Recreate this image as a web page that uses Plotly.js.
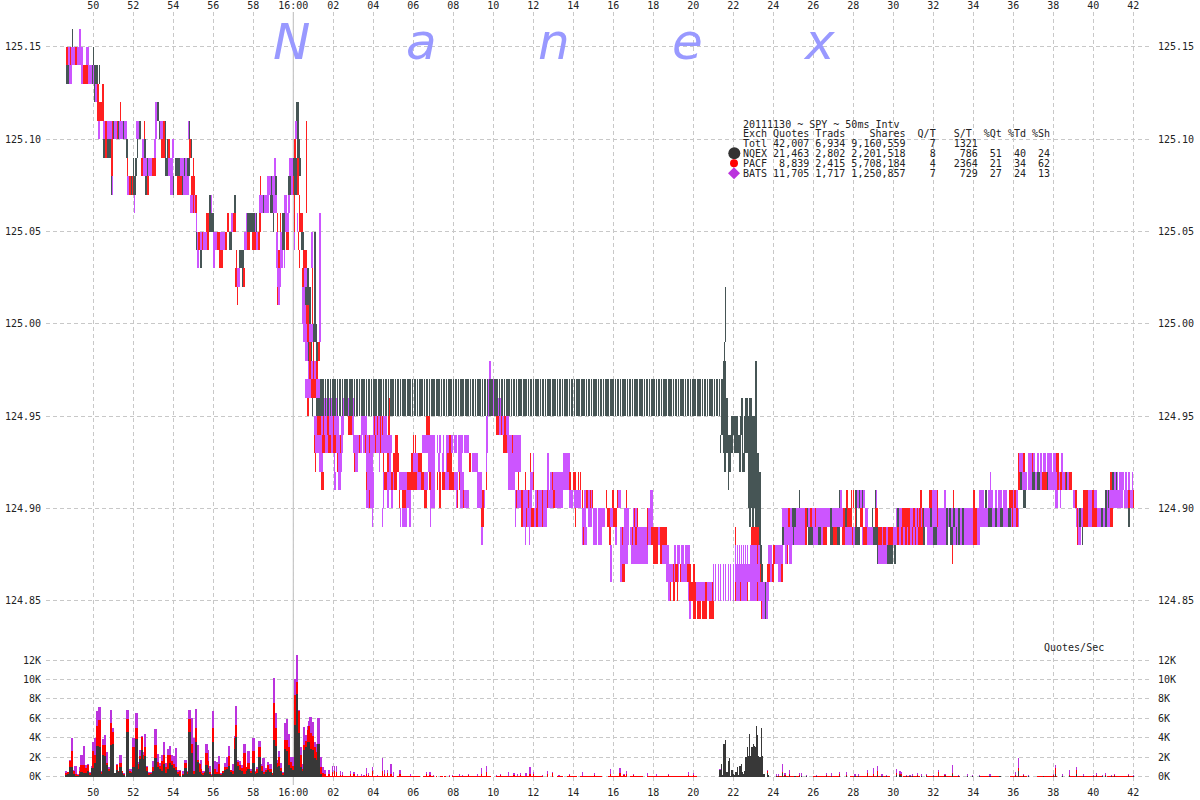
<!DOCTYPE html>
<html>
<head>
<meta charset="utf-8">
<script src="https://cdn.plot.ly/plotly-3.0.1.min.js"></script>
<style>html,body{margin:0;padding:0;background:#fff}#chart{width:1200px;height:800px}</style>
</head>
<body>
<div id="chart"></div>
<script>
// Time is in seconds relative to 16:00:00. Each band is [bid, ask, [start,end, start,end, ...]].
const batsBands = [
[125.15,125.16,[-643,-637]],
[125.14,125.15,[-676,-655,-649,-630,-622,-612]],
[125.13,125.14,[-672,-664,-637,-630,-615,-597]],
[125.12,125.13,[-594,-585]],
[125.11,125.12,[-415,-410]],
[125.10,125.11,[-585,-579,-570,-564,-558,-545,-537,-530,-524,-512,-508,-499,-471,-462,-415,-410,-400,-390,-316,-312,5,10]],
[125.09,125.10,[-455,-448,-418,-413,-364,-358]],
[125.08,125.09,[-450,-424,-377,-360,-340,-320,-58,-52,-12,0]],
[125.07,125.08,[-544,-541,-499,-490,-370,-360,-330,-312,-80,-50,-8,-2]],
[125.06,125.07,[-479,-475,-310,-302,-298,-295,-246,-244,-102,-73,-60,-50,-27,-20,-15,-10]],
[125.05,125.06,[-292,-290,-198,-193,-188,-182,-142,-134,-134,-120,-120,-113,-115,-110,-25,-13,10,15,77,83]],
[125.04,125.05,[-292,-253,-240,-230,-220,-198,-148,-138,-113,-105,-52,-45,-40,-35,2,6,53,60,77,83]],
[125.03,125.04,[-290,-282,-240,-234,-52,-45,-40,-30,-28,-25,53,59,77,83]],
[125.02,125.03,[-170,-160,-48,-37,33,40,77,83]],
[125.01,125.02,[-48,-40,27,35,77,83]],
[125.00,125.01,[27,37,77,83]],
[124.99,125.00,[30,40,48,60,77,83]],
[124.98,124.99,[36,46]],
[124.97,124.98,[43,70,587,593]],
[124.96,124.97,[36,80,585,615]],
[124.95,124.96,[75,135,148,182,585,627]],
[124.94,124.95,[62,137,143,152,176,182,203,221,240,280,578,584,608,647]],
[124.93,124.94,[62,150,180,205,210,245,242,296,386,425,430,435,438,443,448,452,458,480,482,490,494,509,512,527,578,584,642,683]],
[124.92,124.93,[77,90,122,125,135,145,186,194,218,240,257,260,288,294,360,373,405,425,435,440,447,452,458,475,493,505,535,553,578,580,644,683,718,722,762,766,808,830,2178,2193,2203,2225,2230,2238,2241,2247,2250,2258,2261,2265,2265,2275,2278,2290,2304,2309]],
[124.91,124.92,[122,128,134,144,222,242,268,272,282,292,300,308,317,355,372,385,392,405,412,425,455,467,482,495,500,512,550,566,644,665,710,720,762,767,770,812,812,828,2091,2093,2185,2200,2203,2217,2224,2336,2462,2475,2478,2492,2495,2502,2505,2510,2515,2520]],
[124.90,124.91,[218,242,268,272,282,288,293,299,338,352,410,425,487,490,500,527,550,575,665,715,725,810,828,840,842,863,872,900,970,982,1070,1080,1637,1645,1690,1715,1745,1751,1915,1930,1952,1958,2057,2072,2084,2100,2105,2112,2115,2125,2128,2140,2160,2175,2285,2295,2300,2304,2340,2350,2385,2411,2440,2450,2450,2490,2493,2503,2505,2522]],
[124.89,124.90,[237,240,266,269,320,322,325,342,348,352,410,413,665,668,682,760,867,878,883,895,900,910,915,935,950,960,992,1007,1020,1035,1063,1080,1466,1475,1476,1496,1508,1655,1715,1725,1808,1935,1935,1958,1958,2177,2348,2460]],
[124.88,124.89,[563,569,695,698,707,710,867,880,900,910,915,925,965,972,980,1007,1010,1060,1065,1072,1093,1100,1472,1500,1503,1535,1560,1590,1655,1685,1705,1750,1755,1875,1870,1880,1900,1930,1932,1958,1980,2060,2355,2362]],
[124.87,124.88,[950,955,980,1005,1012,1065,1106,1128,1142,1148,1151,1160,1163,1172,1175,1190,1325,1328,1331,1334,1337,1340,1343,1346,1349,1352,1355,1358,1361,1364,1370,1406,1424,1436,1445,1470,1475,1485,1487,1496,1752,1790]],
[124.86,124.87,[950,955,980,995,1118,1157,1163,1180,1325,1400,1430,1436,1455,1463]],
[124.85,124.87,[1260,1262,1265,1267,1270,1272,1275,1277,1280,1282,1285,1287,1290,1292,1295,1297,1300,1302,1305,1307,1310,1312,1315,1317,1320,1322]],
[124.85,124.86,[1124,1130,1184,1262,1325,1365,1370,1403,1403,1427]],
[124.84,124.85,[1187,1193,1406,1424]]
];
const pacfBands = [
[125.14,125.15,[-682,-676,-670,-668,-655,-649]],
[125.13,125.14,[-630,-615]],
[125.12,125.13,[-588,-582,-574,-568]],
[125.11,125.12,[-589,-568,-520,-517]],
[125.06,125.11,[38,40]],
[125.10,125.11,[-564,-558,-545,-540,-530,-527,-447,-445,-410,-408,-390,-386]],
[125.09,125.10,[-564,-558,-547,-540,-396,-385,-376,-370,-314,-308,2,8]],
[125.08,125.09,[-546,-540,-499,-496,-456,-450,-424,-413,-302,-298,12,16]],
[125.07,125.08,[-492,-480,-438,-433,-350,-335,-307,-295,-100,-97,-2,2,12,17]],
[125.06,125.07,[-302,-298,-294,-289,2,6,16,20]],
[125.05,125.06,[-262,-252,-260,-254,-198,-193,-182,-172,-104,-98,-49,-46,-40,-36,-30,-24,2,6,16,28,25,28]],
[125.04,125.05,[-285,-280,-274,-270,-258,-254,-230,-220,-205,-200,-138,-130,-125,-113,-105,-100,-22,-13,13,18]],
[125.03,125.04,[-223,-211,-173,-168,-45,-40,17,20,28,42]],
[125.02,125.03,[-175,-170,-150,-145,27,33,55,59]],
[125.01,125.02,[-169,-166,-49,-46,55,58]],
[125.00,125.01,[37,48,55,60]],
[124.99,125.00,[40,48]],
[124.98,124.99,[48,52,60,62,74,80]],
[124.97,124.98,[48,52,58,62,68,75]],
[124.96,124.97,[52,68]],
[124.95,124.96,[42,48,87,89,155,157,173,175,285,290,580,582]],
[124.94,124.95,[71,82,90,92,102,106,120,123,165,176,208,210,241,245,252,254,260,262,265,270,284,291,398,410,608,617,623,626,632,637]],
[124.93,124.94,[62,65,86,95,104,114,120,128,140,144,197,200,215,218,228,230,244,248,260,262,304,315,360,363,365,368,466,472,628,642,656,658]],
[124.92,124.93,[65,67,130,135,182,186,270,273,280,286,298,318,353,360,373,376,378,387,460,477,528,532,710,713,2175,2178,2190,2195,2217,2220,2288,2296]],
[124.91,124.92,[84,92,218,222,272,282,292,298,302,310,342,372,384,392,408,412,430,433,438,442,447,455,467,482,497,500,578,581,674,677,695,698,718,722,775,780,828,832,838,847,855,858,860,863,2175,2180,2245,2260,2290,2296,2300,2305,2314,2318,2328,2336,2450,2455]],
[124.90,124.91,[227,230,317,320,325,338,392,401,437,443,492,495,508,511,565,572,668,672,682,690,705,708,730,733,745,750,760,764,780,785,866,870,878,883,890,894,897,900,938,941,956,962,970,974,998,1001,1658,1663,1672,1675,1678,1682,1880,1886,1907,1915,1930,1933,1980,1982,2040,2045,2147,2160,2163,2168,2338,2340,2345,2350,2370,2385,2395,2402,2503,2510,2518,2522]],
[124.89,124.90,[563,571,682,688,698,702,712,722,728,735,745,750,845,848,940,950,958,972,1022,1024,1030,1034,1062,1065,1485,1489,1536,1545,1550,1555,1565,1568,1650,1675,1685,1690,1700,1710,1745,1755,1825,1850,1860,1866,1870,1874,1878,1883,1886,1890,1930,1933,2040,2050,2155,2160,2168,2175,2350,2355,2370,2385,2395,2410,2450,2460]],
[124.88,124.89,[870,873,948,953,985,990,1015,1020,1025,1030,1060,1065,1072,1093,1100,1117,1118,1121,1326,1328,1373,1397,1535,1542,1590,1600,1620,1630,1645,1655,1675,1678,1710,1720,1755,1765,1770,1778,1783,1795,1795,1800,1810,1816,1822,1828,1835,1840,1845,1850,1855,1860,1864,1868,1875,1888,2038,2050,2350,2353]],
[124.87,124.88,[1080,1095,1100,1106,1392,1395,1440,1445,1480,1484,1977,1980]],
[124.86,124.87,[985,995,1138,1142,1145,1155,1160,1163,1182,1193,1199,1205,1400,1406,1422,1430,1437,1442,1463,1469]],
[124.85,124.86,[1130,1133,1138,1145,1150,1154,1186,1208,1235,1240,1255,1258,1325,1328,1340,1343,1362,1365,1392,1395]],
[124.84,124.85,[1199,1208,1211,1223,1226,1242,1247,1262,1403,1406]]
];
const nqexBands = [
[125.15,125.16,[-664,-662]],
[125.14,125.15,[-668,-666,-601,-599]],
[125.13,125.14,[-682,-672,-668,-666,-608,-606,-604,-602,-597,-586,-583,-580]],
[125.12,125.13,[-597,-594]],
[125.11,125.12,[-410,-403,8,17]],
[125.10,125.11,[-540,-537,-527,-524,-512,-508,-462,-456,-403,-400,-386,-383,-313,-311,10,17]],
[125.09,125.10,[-570,-565,-558,-548,-502,-496,-470,-465,-448,-442,-385,-383,-380,-376,-308,-304,10,20]],
[125.08,125.09,[-481,-478,-474,-468,-440,-436,-384,-377,-355,-340,-328,-324,-320,-310,0,10,16,22]],
[125.07,125.08,[-546,-544,-488,-484,-480,-472,-444,-438,-362,-358,-335,-330,-67,-63,-55,-50,-15,-8,2,10]],
[125.06,125.07,[-252,-246,-178,-172,-90,-88,-70,-62]],
[125.05,125.06,[-253,-238,-140,-134,-134,-120,-120,-115,-113,-110,-62,-58,-35,-25]],
[125.04,125.05,[-292,-288,-194,-184,-35,-25,23,33,62,68]],
[125.03,125.04,[-281,-275,-163,-147,62,68]],
[125.02,125.03,[-155,-150,40,47,62,68]],
[125.01,125.02,[35,52,62,68]],
[125.00,125.01,[48,52,62,68]],
[124.99,125.00,[58,72]],
[124.99,125.02,[1295,1297]],
[124.98,124.99,[45,48,52,56,68,74,1292,1296]],
[124.97,124.98,[1289,1297,1385,1391]],
[124.96,124.97,[1289,1297,1385,1391]],
[124.95,124.96,[56,59,68,80,1282,1300,1300,1303,1343,1349,1355,1365,1367,1376,1385,1391]],
[124.94,124.95,[1282,1303,1312,1330,1331,1334,1340,1350,1352,1391]],
[124.93,124.94,[1280,1283,1289,1319,1322,1343,1346,1350,1352,1391]],
[124.92,124.93,[1292,1298,1304,1313,1337,1343,1346,1355,1364,1397]],
[124.91,124.92,[1305,1307,1364,1403,2180,2185,2217,2224,2230,2240,2260,2263,2318,2322,2455,2462,2468,2472]],
[124.90,124.91,[1364,1403,1517,1520,1637,1640,1685,1690,1697,1700,1705,1710,1746,1748,2075,2080,2190,2198,2436,2440,2445,2447]],
[124.89,124.90,[1368,1373,1377,1383,1386,1403,1496,1508,1540,1545,1610,1616,1655,1660,1687,1692,1735,1740,1810,1817,1888,1893,1910,1915,1958,1964,1968,1974,1978,1985,1995,2000,2005,2012,2085,2095,2105,2110,2120,2130,2143,2152,2358,2362,2422,2430,2435,2440,2505,2510]],
[124.88,124.89,[1397,1403,1466,1472,1500,1503,1545,1560,1575,1583,1610,1620,1630,1640,1685,1700,1740,1755,1888,1895,1920,1930,1958,1965,1970,1978,1988,1992,1995,2000,2005,2012,2365,2370]],
[124.87,124.88,[1400,1407,1752,1755,1780,1800,1803,1809]],
[124.86,124.87,[1403,1409]],
[124.85,124.86,[1415,1418]],
[124.84,124.85,[1414,1418]]
];
// The quote the NQEX kept refreshing between 01:20 and 21:27: one stripe per refresh.
const nqexStaleLow = 124.95, nqexStaleHigh = 124.97, nqexStaleDuration = 5;
const nqexStaleStart = [80,87,94,101,109,116,123,130,138,145,152,159,167,174,181,188,196,203,210,217,225,232,239,246,254,261,268,275,283,290,297,304,312,319,326,333,341,348,355,362,370,377,384,391,399,406,413,420,428,435,442,449,457,464,471,478,486,493,500,507,515,522,529,536,544,551,558,565,573,580,587,594,602,609,616,623,631,638,645,652,660,667,674,681,689,696,703,710,718,725,732,739,747,754,761,768,776,783,790,797,805,812,819,826,834,841,848,855,863,870,877,884,892,899,906,913,921,928,935,942,950,957,964,971,979,986,993,1000,1008,1015,1022,1029,1037,1044,1051,1058,1066,1073,1080,1087,1095,1102,1109,1116,1124,1131,1138,1145,1153,1160,1167,1174,1182,1189,1196,1203,1211,1218,1225,1232,1240,1247,1254,1261,1269,1276,1283];

// Quotes/sec, thousands. Rows: [second, NQEX top, NQEX+PACF top, total top].
const quotesBeforeClose = [
[-682,.2,.4,.6],[-676,.3,.5,.5],[-670,1,1.6,1.7],[-663,1,2.6,4],[-658,.3,.6,.7],[-654,.1,.3,1.1],[-646,.1,.2,.3],[-640,.3,.6,1],[-636,.5,1.2,2.2],[-630,.4,.7,1],[-627,.4,1.2,3.1],[-622,.4,.9,1.2],[-616,.6,1.2,1.3],[-610,.2,.4,.5],[-604,.9,.9,1.1],[-600,.9,2.6,3.6],[-595,1.4,2.2,4],[-588,3.1,5.2,6.8],[-582,3,5.8,7.2],[-576,.3,.5,.6],[-570,2.2,3.2,3.9],[-565,2.1,3.2,4.3],[-559,1.2,1.4,2.5],[-553,.6,.8,1],[-547,3.2,5.5,6.9],[-542,3.3,4.6,5],[-535,.4,.4,.4],[-530,.7,1.2,1.3],[-525,.5,.6,.6],[-519,1,1.4,2.2],[-513,.4,.6,.6],[-508,.2,.3,.4],[-498,4.6,5.9,6.9],[-492,.4,.6,.8],[-486,.4,.5,.8],[-480,1,3,4],[-474,3.9,4.9,5.3],[-471,3.9,5,6.5],[-465,.8,1.3,1.5],[-460,1.8,2.1,2.7],[-455,2.7,4.1,4.2],[-450,1.8,2.2,2.5],[-445,2.1,3,4.4],[-439,.6,1,1.1],[-433,.2,.4,.5],[-427,.3,.4,.5],[-421,.6,1,1.6],[-414,1.9,3.2,4.9],[-407,1,1.5,2.3],[-401,.8,1.1,1.4],[-395,.6,1.6,2.2],[-388,1.3,2.2,3.6],[-382,.4,1,1.4],[-377,.8,2.2,2.8],[-370,1.4,2.2,3.1],[-364,1.2,1.6,2.2],[-358,.9,1.3,2.1],[-352,.7,1,2.9],[-346,.3,.5,.7],[-340,.1,.6,.7],[-332,.2,.3,.6],[-324,.9,1.4,1.7],[-318,.3,.5,.6],[-312,4.6,5.9,6.9],[-306,2.4,3.4,6],[-300,.3,.6,4],[-292,3.6,5,7],[-286,1.5,1.7,3.2],[-280,.5,1.3,1.4],[-277,.3,.8,1.7],[-271,.2,.4,.6],[-265,.4,.5,.6],[-261,1.2,2.4,3.4],[-255,.9,1.6,2.7],[-250,.3,.5,1.1],[-245,.1,.2,.3],[-240,3.6,5,6.8],[-235,.3,.8,1.6],[-229,.3,.5,1.5],[-223,.3,1.3,2.1],[-217,.2,.3,.4],[-211,.4,.6,.6],[-205,.7,1,1.4],[-199,.8,1,2],[-193,1.1,2.1,3.1],[-187,.5,.7,.7],[-181,.3,.6,1.3],[-177,2.8,4,4.2],[-173,4.1,5.3,7.3],[-167,1.1,1.5,1.7],[-161,.7,1.2,1.6],[-155,.6,.9,1.2],[-147,.3,2.4,3.3],[-140,.6,1,1],[-135,.8,1.4,2.6],[-127,.4,.6,.8],[-120,1.4,2.6,4],[-114,.3,.5,.6],[-108,.4,.8,1],[-102,2,3,3.7],[-96,.6,1.1,1.3],[-90,.3,.5,1.9],[-83,.5,.7,.9],[-77,.7,1.2,1.5],[-69,.5,.8,1.3],[-63,.2,.4,.4],[-60,3.8,5.4,7.1],[-57,3.8,7.6,10.2],[-52,3.1,5,6.5],[-47,1,1.4,1.7],[-42,1.1,2,2.6],[-37,.6,.9,1.4],[-32,.2,.4,.5],[-25,2.8,3.8,5.5],[-19,2.6,3.8,5.9],[-14,1.2,3,4.4],[-8,.9,1.5,2],[-3,.7,1.1,2]
];
const quotesAfterClose = [
[3,5.3,8.4,10.1],[7,5.3,8.4,10.1],[12,8.5,9.7,12.5],[17,4.5,6.8,6.9],[23,1,2.2,3],[27,.6,.8,1.3],[32,2.7,3.2,5.1],[37,3,3.7,4.3],[43,3.6,4.8,5.2],[47,3.6,5.2,5.7],[51,2.8,4.5,6.1],[57,2.7,4.2,5.6],[63,1.9,3,3.6],[69,1.7,2.5,3.3],[75,3.3,3.3,6],[81,.3,1,2],[87,0,.4,1],[93,0,.3,.7],[100,0,.1,.1],[106,0,.3,.7]
];
const quotesLull = [
[118,0,.5,1.1],[124,0,.6,1.1],[130,0,.5,1.1],[136,0,.1,.1],[142,0,.2,.6],[148,0,.2,.5],[160,0,.1,.1],[172,0,.3,.6],[182,0,.3,.5],[192,0,.1,.3],[204,0,.1,.3],[212,0,.1,.2],[220,0,.3,.9],[226,0,.2,.4],[238,0,.6,1],[252,0,.1,.2],[267,0,.6,1.9],[273,0,.3,.7],[283,0,.4,.7],[293,0,.3,1.3],[300,0,.1,.5],[320,0,.3,.7],[330,0,.1,.1],[352,0,.1,.3],[370,0,.1,.1],[400,0,.3,.5],[410,0,.2,.5],[420,0,.1,.2],[430,0,.1,.1],[455,0,.05,.1],[468,0,.1,.2],[478,0,.1,.2],[498,0,.1,.3],[508,0,.1,.2],[525,0,.2,.3],[552,0,.1,.3],[565,0,.3,.9],[580,0,.5,1.1],[590,0,.05,.1],[610,0,.1,.2],[622,0,.2,.3],[645,0,.1,.5],[662,0,.2,.4],[672,0,.1,.3],[682,0,.2,.4],[698,0,.1,.4],[710,0,.3,1],[720,0,.3,.5],[747,0,.1,.2],[763,0,.3,.6],[777,0,.4,.5],[797,0,.1,.2],[828,0,.2,.3],[867,0,.1,.5],[903,0,.2,.4],[952,0,.3,.8],[980,0,.4,.9],[992,0,.2,.3],[1000,0,.3,.6],[1020,0,.2,.3],[1062,0,.1,.4],[1090,0,.1,.3],[1125,0,.2,.3],[1143,0,.1,.1],[1185,0,.2,.5],[1200,0,.2,.4]
];
const quotesBurst = [
[1280,.7,.7,.75],[1284,1.3,1.3,1.3],[1288,.2,.2,.2],[1290,3.4,3.4,3.4],[1294,3.3,3.3,3.3],[1297,3.8,3.8,3.8],[1301,.5,.5,.5],[1305,1.6,1.6,1.6],[1309,1.9,1.9,1.9],[1312,.1,.1,.1],[1316,.7,.7,.7],[1320,.3,.3,.3],[1323,.2,.2,.2],[1328,.5,.5,.5],[1332,1,1,1],[1336,.2,.2,.2],[1340,1.1,1.1,1.1],[1344,1.3,1.3,1.3],[1347,.5,.5,.5],[1350,.3,.3,.3],[1354,.6,.6,.6],[1358,2,2,2],[1362,3,3,3],[1365,2.1,2.1,2.1],[1368,4.4,4.4,4.4],[1372,2.1,2.1,2.1],[1376,3,3,3],[1380,3.3,3.3,3.3],[1383,3.1,3.1,3.1],[1386,3,3,3],[1389,5.2,5.2,5.2],[1392,4.3,4.3,4.3],[1396,2.1,2.1,2.1],[1400,2,2,2],[1404,5,5,5],[1408,2.1,2.1,2.1],[1412,.3,.3,.3],[1422,.4,.6,.7],[1426,.2,.2,.2]
];
const quotesLate = [
[1450,.05,.1,.3],[1456,.05,.1,.3],[1467,.4,.5,1.3],[1475,.1,.2,.4],[1488,.2,.3,.7],[1505,.05,.1,.1],[1518,.1,.2,.4],[1525,.05,.1,.4],[1540,.05,.1,.2],[1570,.05,.1,.2],[1600,.1,.2,.4],[1615,.05,.1,.4],[1638,.1,.3,.5],[1660,.1,.2,.5],[1685,.05,.1,.3],[1695,.05,.1,.3],[1722,.1,.4,.7],[1740,.1,.3,.9],[1752,.2,.6,1.1],[1766,.05,.1,.3],[1780,.05,.1,.2],[1810,.2,.4,.8],[1820,.2,.3,.6],[1825,.1,.3,.5],[1840,.05,.1,.2],[1850,.05,.1,.2],[1858,.05,.1,.3],[1872,.1,.2,.4],[1885,.05,.1,.3],[1900,.1,.2,.3],[1920,.05,.1,.2],[1936,.1,.5,.7],[1955,.1,.2,.3],[1977,.3,.4,1.2],[1995,.05,.1,.2],[2022,.05,.1,.3],[2038,.05,.1,.2],[2058,.05,.1,.2],[2090,.05,.1,.3],[2120,.05,.1,.1],[2166,.1,.2,.5],[2176,.6,.9,1.9],[2190,.1,.2,.3],[2205,.05,.1,.2],[2250,.05,.1,.1],[2280,.1,.2,.3],[2286,.3,.9,1.2],[2307,.05,.1,.3],[2328,.1,.2,.7],[2349,.3,.7,1],[2370,.05,.1,.3],[2400,.05,.1,.2],[2410,.1,.2,.4],[2428,.05,.1,.2],[2437,.1,.2,.4],[2455,.05,.1,.2],[2464,.1,.2,.3],[2505,.1,.2,.3],[2520,.05,.1,.2]
];
// Stretches where the PACF kept a thin trickle of quotes [start,end,...], and its rate.
const pacfTrickleRuns = [100,300,310,380,390,420,440,450,480,590,610,750,790,810,820,850,860,925,945,1000,1010,1050,1060,1210,1450,1520,1560,1640,1670,1790,1830,1880,1900,2000,2060,2120,2150,2200,2230,2290,2330,2430,2440,2520];
const pacfTrickleRate = 0.08;

const timeTickSeconds = [-600,-480,-360,-240,-120,0,120,240,360,480,600,720,840,960,1080,1200,1320,1440,1560,1680,1800,1920,2040,2160,2280,2400,2520];
const timeTickLabels = ['50','52','54','56','58','16:00','02','04','06','08','10','12','14','16','18','20','22','24','26','28','30','32','34','36','38','40','42'];
const priceTicks = [124.85,124.90,124.95,125.00,125.05,125.10,125.15];
const priceTickLabels = ['124.85','124.90','124.95','125.00','125.05','125.10','125.15'];
const rateTicks = [0,2,4,6,8,10,12];
const rateTickLabels = ['0K','2K','4K','6K','8K','10K','12K'];

const tableRows = [
'20111130 ~ SPY ~ 50ms Intv',
'Exch Quotes Trads    Shares  Q/T   S/T  %Qt %Td %Sh',
'Totl 42,007 6,934 9,160,559    7   1321',
'NQEX 21,463 2,802 2,201,518    8    786  51  40  24',
'PACF  8,839 2,415 5,708,184    4   2364  21  34  62',
'BATS 11,705 1,717 1,250,857    7    729  27  24  13'
];
const brandLetters = ['N','a','n','e','x'];

// --- styling and layout, all page pixels ---
const W = 1200, H = 800, L = 46, R = 1150, T = 12, B = 785, SPLIT = 630;
const BATS_COLOR = '#cc55ff', PACF_COLOR = '#ff2020', NQEX_COLOR = '#465555';
const RATE_BATS = '#bb33dd', RATE_PACF = '#ff0000', RATE_NQEX = '#383838';
const MONO = '"DejaVu Sans Mono", monospace', INK = '#222222', GRID = '#c8c8c8';
const px = x => (x - L) / (R - L), py = y => (B - y) / (B - T);

function bandTrace(bands, color) {
  const x = [], width = [], base = [], y = [];
  bands.forEach(([low, high, runs]) => {
    for (let i = 0; i < runs.length; i += 2) {
      x.push((runs[i] + runs[i + 1]) / 2);
      width.push(runs[i + 1] - runs[i]);
      base.push(low);
      y.push(high - low);
    }
  });
  return {type: 'bar', x, y, base, width, xaxis: 'x', yaxis: 'y', hoverinfo: 'skip',
          marker: {color, line: {width: 0}}};
}
const stale = {
  type: 'bar', hoverinfo: 'skip', xaxis: 'x', yaxis: 'y',
  x: nqexStaleStart.map(s => s + nqexStaleDuration / 2),
  y: nqexStaleStart.map(() => nqexStaleHigh - nqexStaleLow),
  base: nqexStaleStart.map(() => nqexStaleLow),
  width: nqexStaleDuration,
  marker: {color: NQEX_COLOR, line: {width: 0}}
};

const quoteRows = [].concat(quotesBeforeClose, quotesAfterClose, quotesLull, quotesBurst, quotesLate);
const quoteWidths = quoteRows.map((r, i) => {
  const next = quoteRows[i + 1] ? quoteRows[i + 1][0] - r[0] : 3;
  return Math.max(2.5, Math.min(next + 1, r[0] < 110 ? 7 : 3.5));
});
function rateTrace(col, color) {
  return {type: 'bar', xaxis: 'x', yaxis: 'y2', hoverinfo: 'skip',
          x: quoteRows.map(r => r[0]), y: quoteRows.map(r => r[col]), width: quoteWidths,
          marker: {color, line: {width: 0}}};
}
const trickle = {type: 'bar', xaxis: 'x', yaxis: 'y2', hoverinfo: 'skip', x: [], y: [], width: [],
                 marker: {color: RATE_PACF, line: {width: 0}}};
for (let i = 0; i < pacfTrickleRuns.length; i += 2) {
  trickle.x.push((pacfTrickleRuns[i] + pacfTrickleRuns[i + 1]) / 2);
  trickle.width.push(pacfTrickleRuns[i + 1] - pacfTrickleRuns[i]);
  trickle.y.push(pacfTrickleRate);
}
// Invisible anchors so the mirrored axes (top time, right price, right rate) are drawn.
const mirror = (xa, ya, yv) => ({type: 'scatter', mode: 'markers', x: [0], y: [yv], xaxis: xa, yaxis: ya,
  marker: {opacity: 0, size: 1}, hoverinfo: 'skip'});

const traces = [
  bandTrace(batsBands, BATS_COLOR),
  bandTrace(pacfBands, PACF_COLOR),
  bandTrace(nqexBands, NQEX_COLOR),
  stale,
  rateTrace(3, RATE_BATS),
  rateTrace(2, RATE_PACF),
  trickle,
  rateTrace(1, RATE_NQEX),
  mirror('x2', 'y', 125),
  mirror('x', 'y3', 125),
  mirror('x', 'y4', 1)
];

const gridStyle = {showgrid: true, gridcolor: GRID, griddash: '4px,3px', gridwidth: 1, zeroline: false, showline: false};
const tickFont = {family: MONO, size: 10, color: INK};
const clearTick = len => ({ticks: 'outside', ticklen: len, tickwidth: 1, tickcolor: 'rgba(0,0,0,0)'});
const xRange = [(L * 3) - 880, (R * 3) - 880];
const priceRange = [124.85 - (SPLIT - 600.7) * 0.05 / 92.3, 125.15 + (47 - T) * 0.05 / 92.3];
const rateRange = [(776.5 - B) / 9.7, (776.5 - SPLIT) / 9.7];
const yDomainSplit = py(SPLIT);

const annotations = [];
tableRows.forEach((row, i) => {
  const ys = [124, 133.7, 143.4, 153.4, 163.4, 173.4];
  annotations.push({xref: 'paper', yref: 'paper', x: px(741.5), y: py(ys[i]), xanchor: 'left', yanchor: 'middle',
    showarrow: false, align: 'left', borderpad: 0, text: row.replace(/ /g, '\u00A0'),
    font: {family: MONO, size: 10, color: INK}});
});
[291, 421, 554, 687, 819].forEach((c, i) => {
  annotations.push({xref: 'paper', yref: 'paper', x: px(c), y: py(42), xanchor: 'center', yanchor: 'middle',
    showarrow: false, borderpad: 0, text: '<i>' + brandLetters[i] + '</i>',
    font: {family: '"DejaVu Sans", sans-serif', size: 50, color: '#9999ff'}});
});
annotations.push({xref: 'paper', yref: 'paper', x: px(1043), y: py(647.5), xanchor: 'left', yanchor: 'middle',
  showarrow: false, borderpad: 0, text: 'Quotes/Sec', font: {family: MONO, size: 10, color: INK}});

const diamond = (cx, cy, r) => `M ${px(cx - r)} ${py(cy)} L ${px(cx)} ${py(cy - r)} L ${px(cx + r)} ${py(cy)} L ${px(cx)} ${py(cy + r)} Z`;
const circle = (cx, cy, r, color) => ({type: 'circle', xref: 'paper', yref: 'paper', layer: 'above',
  x0: px(cx - r), x1: px(cx + r), y0: py(cy + r), y1: py(cy - r), fillcolor: color, line: {width: 0}});
const shapes = [
  {type: 'line', xref: 'x', yref: 'paper', x0: 0, x1: 0, y0: 0, y1: 1, layer: 'below', line: {color: '#c8c8c8', width: 1.2}},
  circle(734.3, 153.3, 6, '#333333'),
  circle(734, 163.3, 4, '#ff0000'),
  {type: 'path', xref: 'paper', yref: 'paper', layer: 'above', path: diamond(734, 173.3, 6), fillcolor: RATE_BATS, line: {width: 0}}
];

const layout = {
  width: W, height: H, autosize: false, showlegend: false, barmode: 'overlay', bargap: 0,
  paper_bgcolor: '#ffffff', plot_bgcolor: '#ffffff',
  margin: {l: L, r: W - R, t: T, b: H - B, pad: 0},
  xaxis: Object.assign({}, gridStyle, {ticks: '', range: xRange, domain: [0, 1], anchor: 'y2', side: 'bottom', tickmode: 'array',
    tickvals: timeTickSeconds, ticktext: timeTickLabels, tickfont: tickFont, tickangle: 0}),
  xaxis2: {range: xRange, domain: [0, 1], anchor: 'y', overlaying: 'x', side: 'top', tickmode: 'array',
    tickvals: timeTickSeconds, ticktext: timeTickLabels, tickfont: tickFont, showgrid: false, zeroline: false,
    showline: false, ticks: '', tickangle: 0},
  yaxis: Object.assign({}, gridStyle, clearTick(2), {range: priceRange, domain: [yDomainSplit, 1], anchor: 'x', side: 'left',
    tickmode: 'array', tickvals: priceTicks, ticktext: priceTickLabels, tickfont: tickFont}),
  yaxis2: Object.assign({}, gridStyle, clearTick(2), {range: rateRange, domain: [0, yDomainSplit], anchor: 'x', side: 'left',
    tickmode: 'array', tickvals: rateTicks, ticktext: rateTickLabels, tickfont: tickFont}),
  yaxis3: Object.assign({}, clearTick(5), {range: priceRange, overlaying: 'y', anchor: 'x', side: 'right', tickmode: 'array', tickvals: priceTicks,
    ticktext: priceTickLabels, tickfont: tickFont, showgrid: false, zeroline: false, showline: false}),
  yaxis4: Object.assign({}, clearTick(5), {range: rateRange, overlaying: 'y2', anchor: 'x', side: 'right', tickmode: 'array', tickvals: rateTicks,
    ticktext: rateTickLabels, tickfont: tickFont, showgrid: false, zeroline: false, showline: false}),
  annotations, shapes
};
Plotly.newPlot('chart', traces, layout, {displayModeBar: false, staticPlot: true});
</script>
</body>
</html>
